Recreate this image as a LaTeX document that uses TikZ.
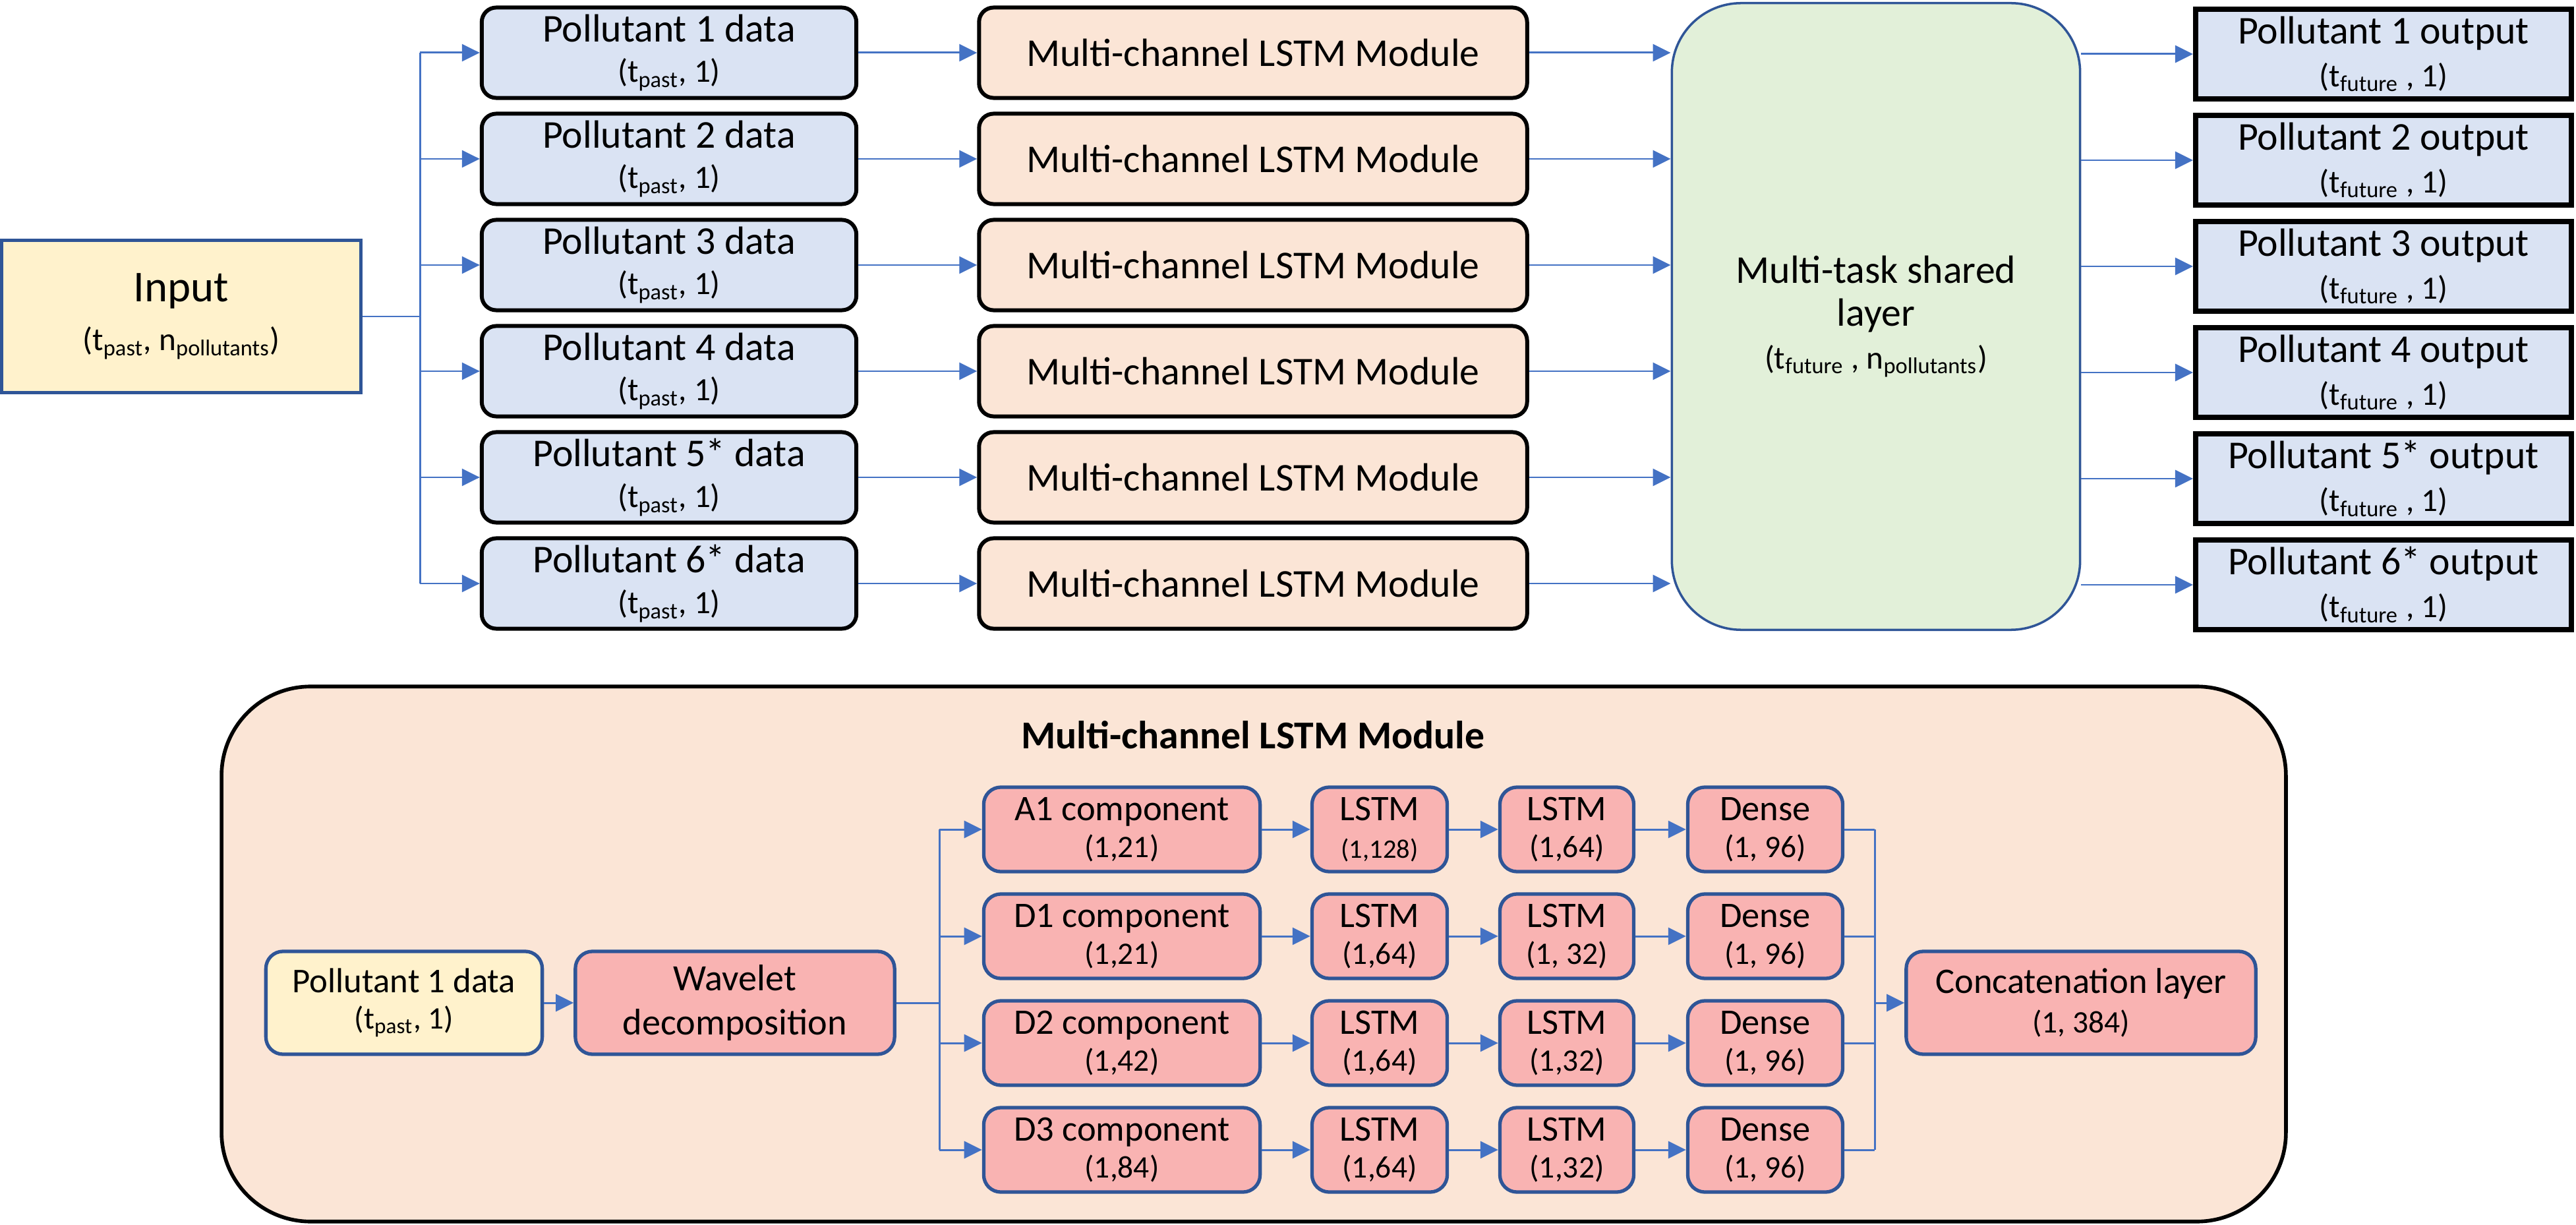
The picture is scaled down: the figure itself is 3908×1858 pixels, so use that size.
\documentclass[tikz,border=0pt]{standalone}
\usepackage{fontspec}
\setmainfont{Carlito}
\usepackage{tikz}
\usetikzlibrary{arrows.meta,positioning}
\definecolor{mtblue}{HTML}{DAE3F3}
\definecolor{mtpeach}{HTML}{FBE5D6}
\definecolor{mtgreen}{HTML}{E2F0D9}
\definecolor{mtyellow}{HTML}{FFF2CC}
\definecolor{mtpink}{HTML}{F9B3B2}
\definecolor{mtedge}{HTML}{2F5597}
\definecolor{mtarrow}{HTML}{4472C4}
\newcommand{\shapetxt}{\fontsize{14}{14}\selectfont}
\newcommand{\dimtxt}{\fontsize{13.5}{13.5}\selectfont}

\begin{document}
\begin{tikzpicture}[x=0.01cm,y=-0.01cm,
    datbox/.style={draw=black,line width=1.7pt,fill=mtblue,rounded corners=0.22cm,minimum width=5.68cm,minimum height=1.37cm,align=center,inner sep=0pt,font=\fontsize{17}{17.5}\selectfont},
    modbox/.style={draw=black,line width=1.7pt,fill=mtpeach,rounded corners=0.22cm,minimum width=8.31cm,minimum height=1.37cm,inner sep=0pt,font=\fontsize{17}{18}\selectfont},
    outbox/.style={draw=black,line width=2.2pt,fill=mtblue,minimum width=5.70cm,minimum height=1.36cm,align=center,inner sep=0pt,font=\fontsize{17}{18.5}\selectfont},
    layerbox/.style={draw=mtedge,line width=1.5pt,fill=mtpink,rounded corners=0.26cm,minimum height=1.28cm,align=center,inner sep=0pt,font=\fontsize{15.5}{16}\selectfont},
    arr/.style={-{Triangle[length=0.27cm,width=0.26cm]},mtarrow,line width=0.85pt},
    feed/.style={mtarrow,line width=0.85pt}]
  \useasboundingbox (0,0) rectangle (3908,1858);

  % upper half: multi-task network
  \node[draw=mtedge,line width=1.4pt,fill=mtyellow,minimum width=5.45cm,minimum height=2.30cm,align=center,inner sep=0pt,font=\fontsize{19}{21}\selectfont] (input) at (275,480)
    {Input\\{\shapetxt(t\textsubscript{past}, n\textsubscript{pollutants})}};

  \node[datbox] (d1) at (1015,80) {Pollutant 1 data\\{\shapetxt(t\textsubscript{past}, 1)}};
  \node[datbox] (d2) at (1015,241) {Pollutant 2 data\\{\shapetxt(t\textsubscript{past}, 1)}};
  \node[datbox] (d3) at (1015,402) {Pollutant 3 data\\{\shapetxt(t\textsubscript{past}, 1)}};
  \node[datbox] (d4) at (1015,563) {Pollutant 4 data\\{\shapetxt(t\textsubscript{past}, 1)}};
  \node[datbox] (d5) at (1015,724) {Pollutant 5* data\\{\shapetxt(t\textsubscript{past}, 1)}};
  \node[datbox] (d6) at (1015,885) {Pollutant 6* data\\{\shapetxt(t\textsubscript{past}, 1)}};

  \node[modbox] (m1) at (1901,80) {Multi-channel LSTM Module};
  \node[modbox] (m2) at (1901,241) {Multi-channel LSTM Module};
  \node[modbox] (m3) at (1901,402) {Multi-channel LSTM Module};
  \node[modbox] (m4) at (1901,563) {Multi-channel LSTM Module};
  \node[modbox] (m5) at (1901,724) {Multi-channel LSTM Module};
  \node[modbox] (m6) at (1901,885) {Multi-channel LSTM Module};

  \node[draw=mtedge,line width=1pt,fill=mtgreen,rounded corners=1.05cm,minimum width=6.19cm,minimum height=9.50cm,align=center,inner sep=0pt,font=\fontsize{17}{18.5}\selectfont] (shared) at (2846,480)
    {Multi-task shared\\layer\\{\shapetxt(t\textsubscript{future} , n\textsubscript{pollutants})}};

  \node[outbox] (o1) at (3616,82) {Pollutant 1 output\\{\shapetxt(t\textsubscript{future} , 1)}};
  \node[outbox] (o2) at (3616,243) {Pollutant 2 output\\{\shapetxt(t\textsubscript{future} , 1)}};
  \node[outbox] (o3) at (3616,404) {Pollutant 3 output\\{\shapetxt(t\textsubscript{future} , 1)}};
  \node[outbox] (o4) at (3616,565) {Pollutant 4 output\\{\shapetxt(t\textsubscript{future} , 1)}};
  \node[outbox] (o5) at (3616,726) {Pollutant 5* output\\{\shapetxt(t\textsubscript{future} , 1)}};
  \node[outbox] (o6) at (3616,887) {Pollutant 6* output\\{\shapetxt(t\textsubscript{future} , 1)}};

  \coordinate (split) at (637,480);
  \draw[feed] (input.east) -- (split);
  \draw[feed] (split |- d1) -- (split |- d6);
  \draw[arr] (split |- d1) -- (d1);
  \draw[arr] (split |- d2) -- (d2);
  \draw[arr] (split |- d3) -- (d3);
  \draw[arr] (split |- d4) -- (d4);
  \draw[arr] (split |- d5) -- (d5);
  \draw[arr] (split |- d6) -- (d6);

  \draw[arr] (d1) -- (m1);
  \draw[arr] (d2) -- (m2);
  \draw[arr] (d3) -- (m3);
  \draw[arr] (d4) -- (m4);
  \draw[arr] (d5) -- (m5);
  \draw[arr] (d6) -- (m6);

  \draw[arr] (m1) -- (m1 -| shared.west);
  \draw[arr] (m2) -- (m2 -| shared.west);
  \draw[arr] (m3) -- (m3 -| shared.west);
  \draw[arr] (m4) -- (m4 -| shared.west);
  \draw[arr] (m5) -- (m5 -| shared.west);
  \draw[arr] (m6) -- (m6 -| shared.west);

  \draw[arr] (shared.east |- o1) -- (o1);
  \draw[arr] (shared.east |- o2) -- (o2);
  \draw[arr] (shared.east |- o3) -- (o3);
  \draw[arr] (shared.east |- o4) -- (o4);
  \draw[arr] (shared.east |- o5) -- (o5);
  \draw[arr] (shared.east |- o6) -- (o6);

  % lower half: inside one LSTM module
  \node[draw=black,line width=1.6pt,fill=mtpeach,rounded corners=1.35cm,minimum width=31.30cm,minimum height=8.11cm] (module) at (1902,1447) {};
  \node[font=\fontsize{17}{17}\selectfont\bfseries] (modtitle) at (1901,1115) {Multi-channel LSTM Module};

  \node[layerbox,fill=mtyellow,minimum width=4.19cm,minimum height=1.56cm,font=\fontsize{15}{15.5}\selectfont] (pin) at (613,1521)
    {Pollutant 1 data\\{\dimtxt(t\textsubscript{past}, 1)}};
  \node[layerbox,minimum width=4.84cm,minimum height=1.56cm,font=\fontsize{16}{19}\selectfont] (wav) at (1115,1521) {Wavelet\\decomposition};

  \node[layerbox,minimum width=4.19cm] (c1) at (1702,1258) {A1 component\\{\dimtxt(1,21)}};
  \node[layerbox,minimum width=4.19cm] (c2) at (1702,1420) {D1 component\\{\dimtxt(1,21)}};
  \node[layerbox,minimum width=4.19cm] (c3) at (1702,1582) {D2 component\\{\dimtxt(1,42)}};
  \node[layerbox,minimum width=4.19cm] (c4) at (1702,1744) {D3 component\\{\dimtxt(1,84)}};

  \node[layerbox,minimum width=2.05cm] (la1) at (2093,1258) {LSTM\\{\fontsize{11.5}{11.5}\selectfont(1,128)}};
  \node[layerbox,minimum width=2.05cm] (la2) at (2093,1420) {LSTM\\{\dimtxt(1,64)}};
  \node[layerbox,minimum width=2.05cm] (la3) at (2093,1582) {LSTM\\{\dimtxt(1,64)}};
  \node[layerbox,minimum width=2.05cm] (la4) at (2093,1744) {LSTM\\{\dimtxt(1,64)}};

  \node[layerbox,minimum width=2.03cm] (lb1) at (2377,1258) {LSTM\\{\dimtxt(1,64)}};
  \node[layerbox,minimum width=2.03cm] (lb2) at (2377,1420) {LSTM\\{\dimtxt(1, 32)}};
  \node[layerbox,minimum width=2.03cm] (lb3) at (2377,1582) {LSTM\\{\dimtxt(1,32)}};
  \node[layerbox,minimum width=2.03cm] (lb4) at (2377,1744) {LSTM\\{\dimtxt(1,32)}};

  \node[layerbox,minimum width=2.35cm] (de1) at (2678,1258) {Dense\\{\dimtxt(1, 96)}};
  \node[layerbox,minimum width=2.35cm] (de2) at (2678,1420) {Dense\\{\dimtxt(1, 96)}};
  \node[layerbox,minimum width=2.35cm] (de3) at (2678,1582) {Dense\\{\dimtxt(1, 96)}};
  \node[layerbox,minimum width=2.35cm] (de4) at (2678,1744) {Dense\\{\dimtxt(1, 96)}};

  \node[layerbox,minimum width=5.30cm,minimum height=1.56cm,font=\fontsize{15.5}{17}\selectfont] (cat) at (3157,1521)
    {Concatenation layer\\{\dimtxt(1, 384)}};

  \draw[arr] (pin) -- (wav);
  \coordinate (fork) at (1425,1521);
  \draw[feed] (wav) -- (fork);
  \draw[feed] (fork |- c1) -- (fork |- c4);
  \draw[arr] (fork |- c1) -- (c1);
  \draw[arr] (fork |- c2) -- (c2);
  \draw[arr] (fork |- c3) -- (c3);
  \draw[arr] (fork |- c4) -- (c4);

  \draw[arr] (c1) -- (la1);
  \draw[arr] (c2) -- (la2);
  \draw[arr] (c3) -- (la3);
  \draw[arr] (c4) -- (la4);
  \draw[arr] (la1) -- (lb1);
  \draw[arr] (la2) -- (lb2);
  \draw[arr] (la3) -- (lb3);
  \draw[arr] (la4) -- (lb4);
  \draw[arr] (lb1) -- (de1);
  \draw[arr] (lb2) -- (de2);
  \draw[arr] (lb3) -- (de3);
  \draw[arr] (lb4) -- (de4);

  \coordinate (join) at (2844,1521);
  \draw[feed] (de1) -- (de1 -| join);
  \draw[feed] (de2) -- (de2 -| join);
  \draw[feed] (de3) -- (de3 -| join);
  \draw[feed] (de4) -- (de4 -| join);
  \draw[feed] (join |- de1) -- (join |- de4);
  \draw[arr] (join) -- (cat);
\end{tikzpicture}
\end{document}
